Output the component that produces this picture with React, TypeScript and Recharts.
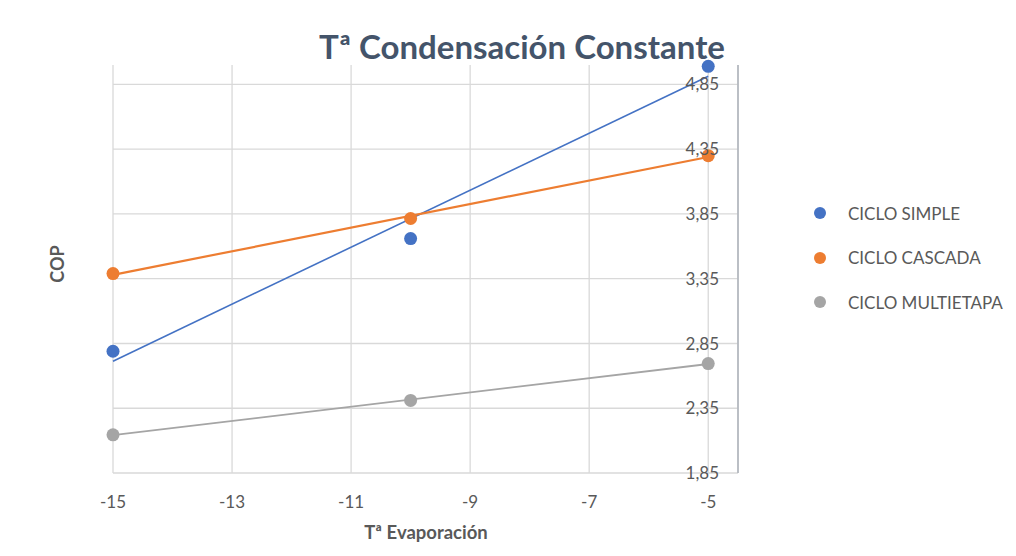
import React from 'react';
import { ScatterChart, Scatter, XAxis, YAxis, CartesianGrid } from 'recharts';

const temps = [-15, -10, -5];
const simpleCOP = [2.79, 3.66, 4.99];
const cascadaCOP = [3.39, 3.815, 4.3];
const multietapaCOP = [2.145, 2.41, 2.695];
const seriesNames = ['CICLO SIMPLE', 'CICLO CASCADA', 'CICLO MULTIETAPA'];
const seriesColors = ['#4472C4', '#ED7D31', '#A5A5A5'];
const xTicks = [-15, -13, -11, -9, -7, -5];
const yTicks = [1.85, 2.35, 2.85, 3.35, 3.85, 4.35, 4.85];

const FONT = 'Lato, "Open Sans", sans-serif';
const TEXT = '#595959';

const toPoints = (ys: number[]) => temps.map((x, i) => ({ x, y: ys[i] }));

// least-squares linear trendline (as Excel's linear trendline), evaluated at the first and last x
const trend = (ys: number[]) => {
  const n = temps.length;
  const mx = temps.reduce((a, b) => a + b, 0) / n;
  const my = ys.reduce((a, b) => a + b, 0) / n;
  let sxy = 0;
  let sxx = 0;
  temps.forEach((x, i) => {
    sxy += (x - mx) * (ys[i] - my);
    sxx += (x - mx) * (x - mx);
  });
  const m = sxy / sxx;
  const b = my - m * mx;
  const xs = [temps[0], temps[n - 1]];
  return xs.map((x) => ({ x, y: m * x + b }));
};

const allSeries = [simpleCOP, cascadaCOP, multietapaCOP];
const trendWidths = [1.6, 2.2, 1.8];

const YTick = (props: any) => {
  const { x, y, payload } = props;
  return (
    <text x={x - 19} y={y} dy="0.355em" textAnchor="end" fill={TEXT} fontSize={17} fontFamily={FONT}>
      {Number(payload.value).toFixed(2).replace('.', ',')}
    </text>
  );
};

export default function App() {
  return (
    <div style={{ position: 'absolute', left: 0, top: 0, width: 1016, height: 556, background: '#fff' }}>
      <ScatterChart width={1016} height={556} margin={{ top: 65, right: 248, left: 113, bottom: 53 }}>
        <CartesianGrid
          stroke="#d9d9d9"
          strokeWidth={1.3}
          horizontalValues={yTicks}
          verticalValues={xTicks}
        />
        <XAxis
          type="number"
          dataKey="x"
          domain={[-15, -4.5]}
          ticks={xTicks}
          interval={0}
          height={30}
          tickSize={0}
          tickMargin={23}
          axisLine={false}
          tickLine={false}
          tick={{ fill: TEXT, fontSize: 17, fontFamily: FONT }}
        />
        <YAxis
          type="number"
          dataKey="y"
          orientation="right"
          domain={[1.85, 5.0]}
          ticks={yTicks}
          interval={0}
          width={30}
          tickSize={0}
          tickMargin={0}
          tickLine={false}
          axisLine={{ stroke: '#b4b8bf', strokeWidth: 1.8 }}
          tick={YTick}
        />
        {allSeries.map((ys, i) => (
          <Scatter
            key={'t' + i}
            data={trend(ys)}
            line={{ stroke: seriesColors[i], strokeWidth: trendWidths[i] }}
            shape={() => <g />}
            legendType="none"
            isAnimationActive={false}
          />
        ))}
        {allSeries.map((ys, i) => (
          <Scatter
            key={'s' + i}
            name={seriesNames[i]}
            data={toPoints(ys)}
            fill={seriesColors[i]}
            shape={(p: any) => <circle cx={p.cx} cy={p.cy} r={6.5} fill={seriesColors[i]} />}
            isAnimationActive={false}
          />
        ))}
      </ScatterChart>
      <div style={{ position: 'absolute', left: 813, top: 191, fontFamily: FONT }}>
        {seriesNames.map((name, i) => (
          <div key={name} style={{ display: 'flex', alignItems: 'center', height: 44.5 }}>
            <svg width={14} height={14} style={{ marginRight: 21 }}>
              <circle cx={7} cy={7} r={6} fill={seriesColors[i]} />
            </svg>
            <span style={{ fontSize: 17, color: TEXT }}>{name}</span>
          </div>
        ))}
      </div>
      <div
        style={{
          position: 'absolute',
          left: 522,
          top: 46,
          transform: 'translate(-50%, -50%)',
          whiteSpace: 'nowrap',
          fontFamily: FONT,
          fontWeight: 700,
          fontSize: 33,
          color: '#44546A',
        }}
      >
        Tª Condensación Constante
      </div>
      <div
        style={{
          position: 'absolute',
          left: 57,
          top: 264,
          transform: 'translate(-50%, -50%) rotate(-90deg)',
          whiteSpace: 'nowrap',
          fontFamily: FONT,
          fontWeight: 700,
          fontSize: 18,
          color: TEXT,
        }}
      >
        COP
      </div>
      <div
        style={{
          position: 'absolute',
          left: 426,
          top: 532,
          transform: 'translate(-50%, -50%)',
          whiteSpace: 'nowrap',
          fontFamily: FONT,
          fontWeight: 700,
          fontSize: 18.5,
          color: TEXT,
        }}
      >
        Tª Evaporación
      </div>
    </div>
  );
}
